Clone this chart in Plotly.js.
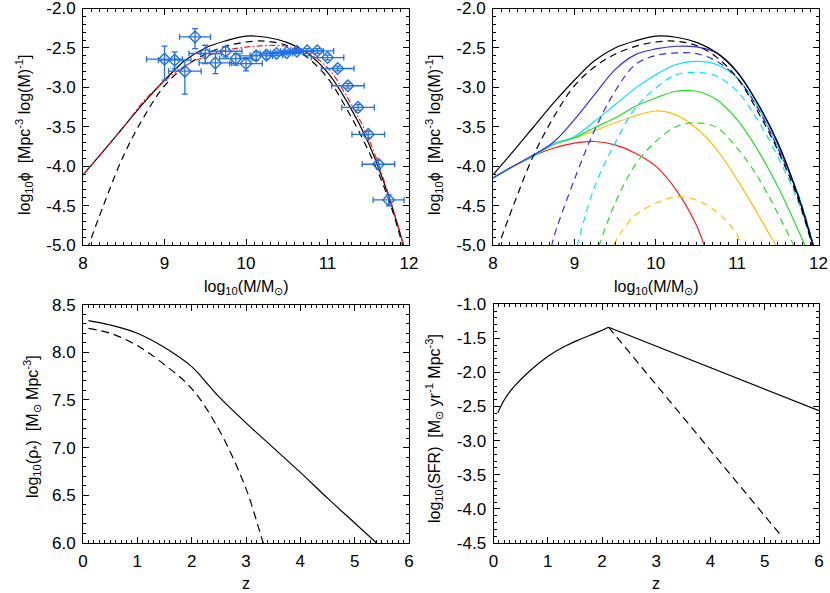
<!DOCTYPE html>
<html>
<head>
<meta charset="utf-8">
<script src="https://cdn.plot.ly/plotly-3.0.1.min.js"></script>
<style>html,body{margin:0;padding:0;background:#fff;}#chart{width:830px;height:593px;}</style>
</head>
<body>
<div id="chart"></div>
<script>
// ---------- Top panels: stellar mass function ----------
var massGrid = [8.0, 8.25, 8.5, 8.75, 9.0, 9.25, 9.5, 9.75, 10.0, 10.25, 10.5, 10.75, 11.0, 11.25, 11.5, 11.75, 12.0];
var totalSolid = [-4.11, -3.81, -3.50, -3.19, -2.91, -2.66, -2.50, -2.41, -2.35, -2.365, -2.43, -2.565, -2.81, -3.2, -3.70, -4.38, -5.25];
var totalDash  = [-5.2, -4.5, -3.86, -3.37, -2.98, -2.74, -2.58, -2.48, -2.425, -2.415, -2.47, -2.62, -2.88, -3.3, -3.80, -4.42, -5.3];
var redDashDot = [-4.11, -3.81, -3.50, -3.17, -2.92, -2.73, -2.61, -2.53, -2.49, -2.47, -2.48, -2.56, -2.75, -3.14, -3.64, -4.36, -5.25];

// observed points (top-left)
var obsMass = [9.0, 9.125, 9.25, 9.375, 9.5, 9.625, 9.75, 9.875, 10.0, 10.125, 10.25, 10.375, 10.5, 10.625, 10.75, 10.875, 11.0, 11.125, 11.25, 11.375, 11.5, 11.625, 11.75];
var obsPhi  = [-2.643, -2.656, -2.795, -2.36, -2.571, -2.69, -2.542, -2.635, -2.698, -2.601, -2.592, -2.571, -2.559, -2.542, -2.538, -2.538, -2.622, -2.761, -2.98, -3.255, -3.597, -3.976, -4.428];
var obsErrUp   = [0.165, 0.105, 0.139, 0.105, 0.105, 0.118, 0.055, 0.063, 0.076, 0.05, 0.042, 0.03, 0.03, 0.03, 0.03, 0.03, 0.03, 0.03, 0.03, 0.035, 0.04, 0.05, 0.063];
var obsErrDown = [0.266, 0.105, 0.291, 0.148, 0.127, 0.135, 0.072, 0.084, 0.093, 0.055, 0.05, 0.03, 0.03, 0.03, 0.03, 0.03, 0.03, 0.03, 0.03, 0.035, 0.04, 0.05, 0.076];
var obsMassErr = [0.22, 0.2, 0.2, 0.19, 0.2, 0.2, 0.2, 0.2, 0.2, 0.2, 0.2, 0.2, 0.2, 0.2, 0.2, 0.2, 0.2, 0.2, 0.2, 0.2, 0.2, 0.2, 0.19];

// component curves (top-right)
var blueSolid = [-4.15, -4.0, -3.856, -3.69, -3.41, -3.09, -2.775, -2.585, -2.513, -2.479, -2.487, -2.563, -2.80, -3.2, -3.72, -4.38, -5.25];
var blueDashM = [8.72, 8.75, 9.0, 9.25, 9.5, 9.75, 10.0, 10.25, 10.5, 10.75, 11.0, 11.25, 11.5, 11.75, 12.0];
var blueDash  = [-5.02, -4.89, -4.17, -3.54, -3.05, -2.71, -2.597, -2.563, -2.572, -2.67, -2.88, -3.26, -3.77, -4.36, -5.25];
var cyanSolid = [-4.15, -4.0, -3.87, -3.715, -3.623, -3.43, -3.22, -3.01, -2.84, -2.71, -2.67, -2.71, -2.88, -3.24, -3.77, -4.36, -5.25];
var cyanDashM = [9.03, 9.25, 9.5, 9.75, 10.0, 10.25, 10.5, 10.75, 11.0, 11.25, 11.5, 11.75, 12.0];
var cyanDash  = [-5.02, -4.258, -3.708, -3.263, -3.01, -2.84, -2.81, -2.86, -3.05, -3.41, -3.88, -4.45, -5.25];
var greenSolid = [-4.15, -4.0, -3.87, -3.72, -3.64, -3.51, -3.39, -3.24, -3.135, -3.05, -3.05, -3.156, -3.41, -3.79, -4.258, -4.81, -5.4];
var greenDashM = [9.3, 9.5, 9.75, 10.0, 10.25, 10.5, 10.75, 11.0, 11.25, 11.5, 11.75];
var greenDash  = [-5.02, -4.47, -3.98, -3.687, -3.50, -3.45, -3.51, -3.77, -4.13, -4.6, -5.12];
var yellowSolidM = [8.0, 8.25, 8.5, 8.75, 9.0, 9.25, 9.5, 9.75, 10.0, 10.25, 10.5, 10.75, 11.0, 11.25, 11.5];
var yellowSolid  = [-4.15, -4.0, -3.87, -3.725, -3.645, -3.55, -3.45, -3.36, -3.30, -3.35, -3.52, -3.79, -4.17, -4.6, -5.05];
var yellowDashM = [9.48, 9.6, 9.75, 10.0, 10.25, 10.5, 10.75, 11.0, 11.05];
var yellowDash  = [-5.0, -4.80, -4.62, -4.47, -4.39, -4.43, -4.58, -4.87, -5.05];
var redSolidM = [8.0, 8.25, 8.5, 8.75, 9.0, 9.25, 9.5, 9.75, 10.0, 10.25, 10.5, 10.6];
var redSolid  = [-4.15, -4.0, -3.87, -3.77, -3.708, -3.687, -3.73, -3.835, -4.0, -4.3, -4.75, -5.02];

// ---------- Bottom-left: stellar mass density ----------
var zRhoSolid = [0.1, 0.5, 1.0, 1.5, 2.0, 2.2, 2.5, 3.0, 3.5, 4.0, 4.5, 5.0, 5.5];
var rhoSolid  = [8.332, 8.286, 8.20, 8.05, 7.85, 7.73, 7.535, 7.26, 7.0, 6.74, 6.47, 6.21, 5.95];
var zRhoDash  = [0.1, 0.5, 1.0, 1.5, 2.0, 2.5, 3.0, 3.3, 3.35];
var rhoDash   = [8.25, 8.2, 8.07, 7.87, 7.62, 7.19, 6.57, 6.03, 5.95];

// ---------- Bottom-right: star formation rate density ----------
var zSfrRise = [0.08, 0.2, 0.3, 0.386, 0.693, 1.0, 1.307, 1.613, 1.92, 2.12];
var sfrRise  = [-2.59, -2.40, -2.285, -2.20, -1.96, -1.765, -1.62, -1.51, -1.41, -1.337];
var zSfrFall = [2.12, 3.0, 4.0, 5.0, 6.0];
var sfrFall  = [-1.337, -1.615, -1.93, -2.247, -2.56];
var zSfrDash = [2.12, 3.0, 4.0, 5.0, 5.33];
var sfrDash  = [-1.337, -2.18, -3.15, -4.11, -4.42];

// tick labels
var phiTicks = [-2.0, -2.5, -3.0, -3.5, -4.0, -4.5, -5.0];
var phiTickText = ['-2.0', '-2.5', '-3.0', '-3.5', '-4.0', '-4.5', '-5.0'];
var massTicks = [8, 9, 10, 11, 12];
var massTickText = ['8', '9', '10', '11', '12'];
var zTicks = [0, 1, 2, 3, 4, 5, 6];
var zTickText = ['0', '1', '2', '3', '4', '5', '6'];
var rhoTicks = [6.0, 6.5, 7.0, 7.5, 8.0, 8.5];
var rhoTickText = ['6.0', '6.5', '7.0', '7.5', '8.0', '8.5'];
var sfrTicks = [-1.0, -1.5, -2.0, -2.5, -3.0, -3.5, -4.0, -4.5];
var sfrTickText = ['-1.0', '-1.5', '-2.0', '-2.5', '-3.0', '-3.5', '-4.0', '-4.5'];

var FONT = 'Liberation Sans, Arial, Helvetica, sans-serif';
var BLUEPT = '#2070e8';
var LW = 1.2;

function line(x, y, xa, ya, color, dash, shape) {
  return {x: x, y: y, xaxis: xa, yaxis: ya, type: 'scatter', mode: 'lines',
          line: {color: color, width: LW, dash: dash || 'solid', shape: shape || 'spline'},
          hoverinfo: 'skip'};
}
var DASH = '7px,5px';
var traces = [
  // top-left
  line(massGrid, totalSolid, 'x', 'y', '#000'),
  line(massGrid, totalDash, 'x', 'y', '#000', DASH),
  line(massGrid, redDashDot, 'x', 'y', '#ff1a1a', '6px,2.5px,1.5px,2.5px'),
  {x: obsMass, y: obsPhi, xaxis: 'x', yaxis: 'y', type: 'scatter', mode: 'markers',
   marker: {symbol: 'diamond-open', size: 9, color: BLUEPT, line: {color: BLUEPT, width: 1.4}},
   error_x: {type: 'data', array: obsMassErr, color: BLUEPT, thickness: 1.3, width: 3},
   error_y: {type: 'data', symmetric: false, array: obsErrUp, arrayminus: obsErrDown, color: BLUEPT, thickness: 1.3, width: 3},
   hoverinfo: 'skip'},
  // top-right
  line(redSolidM, redSolid, 'x2', 'y2', '#ff1a1a'),
  line(yellowSolidM, yellowSolid, 'x2', 'y2', '#ffc000'),
  line(yellowDashM, yellowDash, 'x2', 'y2', '#ffc000', DASH),
  line(massGrid, greenSolid, 'x2', 'y2', '#22e022'),
  line(greenDashM, greenDash, 'x2', 'y2', '#22e022', DASH),
  line(massGrid, cyanSolid, 'x2', 'y2', '#00e5ff'),
  line(cyanDashM, cyanDash, 'x2', 'y2', '#00e5ff', DASH),
  line(massGrid, blueSolid, 'x2', 'y2', '#3a2ae6'),
  line(blueDashM, blueDash, 'x2', 'y2', '#3a2ae6', DASH),
  line(massGrid, totalSolid, 'x2', 'y2', '#000'),
  line(massGrid, totalDash, 'x2', 'y2', '#000', DASH),
  // bottom-left
  line(zRhoSolid, rhoSolid, 'x3', 'y3', '#000'),
  line(zRhoDash, rhoDash, 'x3', 'y3', '#000', '8px,5px'),
  // bottom-right
  line(zSfrRise, sfrRise, 'x4', 'y4', '#000', 'solid', 'spline'),
  line(zSfrFall, sfrFall, 'x4', 'y4', '#000', 'solid', 'linear'),
  line(zSfrDash, sfrDash, 'x4', 'y4', '#000', '8px,5px', 'linear')
];

function ax(domain, range, tv, tt, anchor) {
  return {domain: domain, range: range, anchor: anchor, tickmode: 'array', tickvals: tv, ticktext: tt,
    showline: true, linecolor: '#000', linewidth: 1, mirror: 'allticks',
    ticks: 'inside', ticklen: 6, tickwidth: 1, tickcolor: '#000',
    showgrid: false, zeroline: false, fixedrange: true,
    ticklabelstandoff: 3, ticklabeloverflow: 'allow',
    tickfont: {family: FONT, size: 17, color: '#000'},
    minor: {tickmode: 'linear', tick0: 0, dtick: 0.1, ticks: 'inside', ticklen: 3, tickwidth: 1, tickcolor: '#000', showgrid: false}};
}
var W = 830, H = 593;
function dx(a, b) { return [a / W, b / W]; }
function dy(top, bot) { return [1 - bot / H, 1 - top / H]; }

function ann(text, px, py, angle) {
  return {text: text, xref: 'paper', yref: 'paper', x: px / W, y: 1 - py / H,
          xanchor: 'center', yanchor: 'middle', showarrow: false, textangle: angle || 0,
          font: {family: FONT, size: 16, color: '#000'}};
}

var layout = {
  width: W, height: H, margin: {l: 0, r: 0, t: 0, b: 0},
  paper_bgcolor: '#fff', plot_bgcolor: '#fff', showlegend: false,
  font: {family: FONT, size: 16, color: '#000'},
  xaxis:  ax(dx(83, 409), [8, 12], massTicks, massTickText, 'y'),
  yaxis:  ax(dy(8.5, 245), [-5, -2], phiTicks, phiTickText, 'x'),
  xaxis2: ax(dx(493, 818.5), [8, 12], massTicks, massTickText, 'y2'),
  yaxis2: ax(dy(8.5, 245), [-5, -2], phiTicks, phiTickText, 'x2'),
  xaxis3: ax(dx(83, 409), [0, 6], zTicks, zTickText, 'y3'),
  yaxis3: ax(dy(304.6, 543), [6.0, 8.5], rhoTicks, rhoTickText, 'x3'),
  xaxis4: ax(dx(493.5, 819), [0, 6], zTicks, zTickText, 'y4'),
  yaxis4: ax(dy(304.2, 543), [-4.5, -1.0], sfrTicks, sfrTickText, 'x4'),
  annotations: [
    ann('log<sub>10</sub>(M/M<sub>⊙</sub>)', 246, 288),
    ann('log<sub>10</sub>(M/M<sub>⊙</sub>)', 656, 288),
    ann('z', 246, 583),
    ann('z', 656, 583),
    ann('log<sub>10</sub>ϕ&nbsp;&nbsp;[Mpc<sup>-3</sup> log(M)<sup>-1</sup>]', 24, 135, -90),
    ann('log<sub>10</sub>ϕ&nbsp;&nbsp;[Mpc<sup>-3</sup> log(M)<sup>-1</sup>]', 434, 135, -90),
    ann('log<sub>10</sub>(ρ<sub>*</sub>)&nbsp;&nbsp;[M<sub>⊙</sub> Mpc<sup>-3</sup>]', 32, 427, -90),
    ann('log<sub>10</sub>(SFR)&nbsp;&nbsp;[M<sub>⊙</sub> yr<sup>-1</sup> Mpc<sup>-3</sup>]', 434, 429, -90)
  ]
};

Plotly.newPlot('chart', traces, layout, {staticPlot: true, displayModeBar: false});
</script>
</body>
</html>
